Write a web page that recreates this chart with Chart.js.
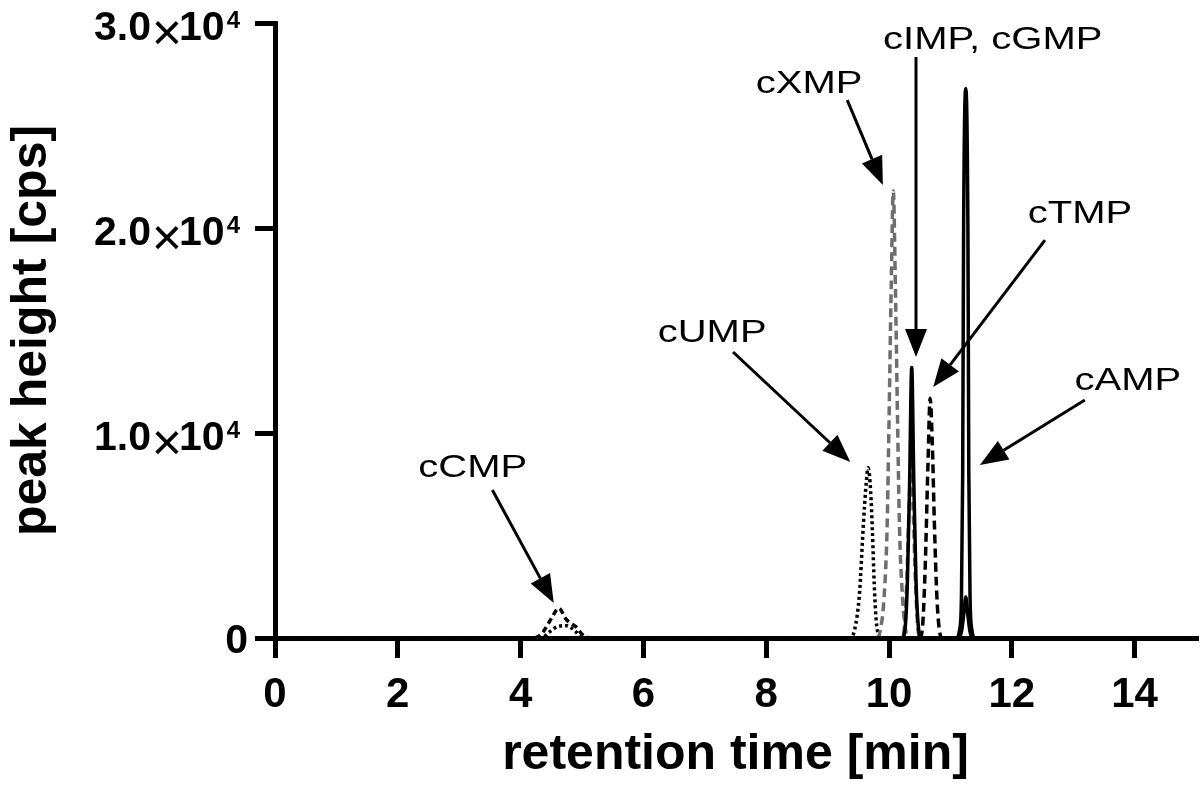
<!DOCTYPE html>
<html><head><meta charset="utf-8">
<script src="https://cdn.jsdelivr.net/npm/chart.js@4.4.0/dist/chart.umd.min.js"></script>
<style>html,body{margin:0;padding:0;background:#fff;}canvas{display:block;}</style>
</head><body>
<canvas id="c" width="1200" height="789"></canvas>
<script>
// ---- tick values ----
const xTicks = [0, 2, 4, 6, 8, 10, 12, 14];
const yTicks = [0, 10000, 20000, 30000];
const yTickMantissa = ['0', '1.0', '2.0', '3.0'];

// ---- traces (retention time [min], peak height [cps]) ----
const cCMP_t = [0, 4.20, 4.30, 4.38, 4.45, 4.52, 4.58, 4.63, 4.67, 4.72, 4.78, 4.85, 4.92, 4.98, 5.05, 5.15, 15];
const cCMP_v = [0, 0, 100, 350, 700, 1050, 1350, 1450, 1300, 1000, 800, 650, 500, 250, 80, 0, 0];

const cUMP_t = [0, 4.35, 4.45, 4.6, 4.75, 4.9, 5.0, 9.36, 9.44, 9.52, 9.58, 9.63, 9.66, 9.70, 9.73, 9.76, 9.79, 9.83, 9.88, 15];
const cUMP_v = [0, 0, 250, 550, 600, 300, 0, 0, 400, 2200, 5400, 7600, 8300, 7200, 5200, 2600, 900, 150, 0, 0];

const cXMP_t = [0, 9.80, 9.86, 9.92, 9.97, 10.00, 10.035, 10.07, 10.105, 10.14, 10.17, 10.22, 10.27, 10.32, 15];
const cXMP_v = [0, 0, 400, 2000, 5500, 10500, 17000, 21800, 17000, 10500, 5500, 2000, 400, 0, 0];

const cIMP_t = [0, 10.21, 10.25, 10.29, 10.325, 10.36, 10.395, 10.43, 10.47, 10.51, 15];
const cIMP_v = [0, 0, 500, 2800, 6200, 8500, 6200, 2800, 500, 0, 0];

const cGMP_t = [0, 10.21, 10.26, 10.30, 10.335, 10.37, 10.405, 10.44, 10.48, 10.53, 11.12, 11.18, 11.215, 11.25, 11.285, 11.32, 11.38, 15];
const cGMP_v = [0, 0, 400, 2800, 7500, 13200, 7500, 2800, 500, 0, 0, 300, 1100, 2000, 1100, 300, 0, 0];

const cTMP_t = [0, 10.50, 10.55, 10.59, 10.635, 10.67, 10.705, 10.74, 10.78, 10.82, 10.87, 15];
const cTMP_v = [0, 0, 700, 3500, 8500, 11700, 9500, 5500, 2000, 400, 0, 0];

const cAMP_t = [0, 11.10, 11.15, 11.18, 11.20, 11.215, 11.25, 11.285, 11.30, 11.32, 11.35, 11.40, 15];
const cAMP_v = [0, 0, 400, 2000, 8000, 20000, 26800, 20000, 8000, 2000, 400, 0, 0];

// ---- annotations (data coordinates) ----
const labelText = ['cCMP', 'cUMP', 'cXMP', 'cIMP, cGMP', 'cTMP', 'cAMP'];
const labelT = [3.22, 7.12, 8.70, 11.69, 13.11, 13.89];
const labelV = [8290, 14880, 27020, 29170, 20680, 12540];
const arrowFromT = [3.54, 7.46, 9.32, 10.44, 12.54, 13.19];
const arrowFromV = [7220, 13950, 26240, 28340, 19410, 11610];
const arrowToT = [4.54, 9.37, 9.90, 10.44, 10.72, 11.48];
const arrowToV = [1710, 8590, 22100, 13710, 12240, 8440];

const FONT = '"Liberation Sans", Arial, Helvetica, sans-serif';
const GREY = '#6e6e6e';

function pts(t, v) { return t.map((x, i) => ({x: x, y: v[i]})); }
function ds(t, v, color, dash) {
  return {data: pts(t, v), borderColor: color, borderWidth: 3.5, borderDash: dash,
          pointRadius: 0, fill: false, cubicInterpolationMode: 'monotone'};
}

const annotPlugin = {
  id: 'annot',
  afterDraw(chart) {
    const ctx = chart.ctx, xs = chart.scales.x, ys = chart.scales.y;
    ctx.save();
    ctx.fillStyle = '#000';
    // y tick labels
    yTicks.forEach((v, i) => {
      const y = ys.getPixelForValue(v);
      ctx.textAlign = 'right';
      ctx.textBaseline = 'alphabetic';
      if (v === 0) {
        ctx.font = 'bold 41px ' + FONT;
        ctx.fillText('0', 248, y + 15);
        return;
      }
      let x = 240;
      ctx.font = 'bold 24px ' + FONT;
      ctx.fillText('4', x, y + 5);
      x -= ctx.measureText('4').width + 2;
      ctx.font = 'bold 41px ' + FONT;
      ctx.fillText('10', x, y + 17);
      x -= ctx.measureText('10').width;
      ctx.font = '52px ' + FONT;
      ctx.textAlign = 'center';
      ctx.textBaseline = 'middle';
      ctx.fillText('\u00d7', x - 12, y + 13);
      ctx.textAlign = 'right';
      ctx.textBaseline = 'alphabetic';
      ctx.font = 'bold 41px ' + FONT;
      ctx.fillText(yTickMantissa[i], x - 28, y + 17);
    });
    // labels
    ctx.font = '32px ' + FONT;
    ctx.textAlign = 'center';
    ctx.textBaseline = 'middle';
    labelText.forEach((s, i) => {
      ctx.save();
      ctx.translate(xs.getPixelForValue(labelT[i]), ys.getPixelForValue(labelV[i]));
      ctx.scale(1.25, 1);
      ctx.fillText(s, 0, 0);
      ctx.restore();
    });
    // arrows
    ctx.strokeStyle = '#000';
    ctx.lineWidth = 3;
    arrowFromT.forEach((_, i) => {
      const x1 = xs.getPixelForValue(arrowFromT[i]), y1 = ys.getPixelForValue(arrowFromV[i]);
      const x2 = xs.getPixelForValue(arrowToT[i]), y2 = ys.getPixelForValue(arrowToV[i]);
      const a = Math.atan2(y2 - y1, x2 - x1);
      const L = 28, W = 11;
      const bx = x2 - L * Math.cos(a), by = y2 - L * Math.sin(a);
      ctx.beginPath();
      ctx.moveTo(x1, y1);
      ctx.lineTo(bx, by);
      ctx.stroke();
      ctx.beginPath();
      ctx.moveTo(x2, y2);
      ctx.lineTo(bx + W * Math.sin(a), by - W * Math.cos(a));
      ctx.lineTo(bx - W * Math.sin(a), by + W * Math.cos(a));
      ctx.closePath();
      ctx.fill();
    });
    ctx.restore();
  }
};

new Chart(document.getElementById('c'), {
  type: 'line',
  data: {
    datasets: [
      ds(cAMP_t, cAMP_v, '#000', []),
      ds(cGMP_t, cGMP_v, '#000', []),
      ds(cTMP_t, cTMP_v, '#000', [9, 5]),
      ds(cIMP_t, cIMP_v, GREY, [9, 5]),
      ds(cXMP_t, cXMP_v, GREY, [9, 5]),
      ds(cUMP_t, cUMP_v, '#000', [3, 3]),
      ds(cCMP_t, cCMP_v, '#000', [6, 4])
    ]
  },
  options: {
    responsive: false,
    animation: false,
    devicePixelRatio: 1,
    layout: {padding: {left: 0, right: 4, top: 23, bottom: 0}},
    plugins: {legend: {display: false}, tooltip: {enabled: false}},
    scales: {
      x: {
        type: 'linear', min: 0, max: 15,
        afterBuildTicks: s => { s.ticks = xTicks.map(v => ({value: v})); },
        afterFit: s => { s.height = 151; },
        border: {display: true, width: 5, color: '#000'},
        grid: {display: true, drawOnChartArea: false, drawTicks: true, tickLength: 20, lineWidth: 5, color: '#000'},
        ticks: {color: '#000', font: {family: FONT, size: 42, weight: 'bold'}, padding: 12, maxRotation: 0},
        title: {display: true, text: 'retention time [min]', color: '#000',
                font: {family: FONT, size: 50, weight: 'bold'}, padding: {top: 0, bottom: 4}}
      },
      y: {
        type: 'linear', min: 0, max: 30000,
        afterBuildTicks: s => { s.ticks = yTicks.map(v => ({value: v})); },
        afterFit: s => { s.width = 275; },
        border: {display: true, width: 5, color: '#000'},
        grid: {display: true, drawOnChartArea: false, drawTicks: true, tickLength: 20, lineWidth: 5, color: '#000'},
        ticks: {display: false},
        title: {display: true, text: 'peak height [cps]', color: '#000',
                font: {family: FONT, size: 50, weight: 'bold'}, padding: {top: 2, bottom: 0}}
      }
    }
  },
  plugins: [annotPlugin]
});
</script>
</body></html>
